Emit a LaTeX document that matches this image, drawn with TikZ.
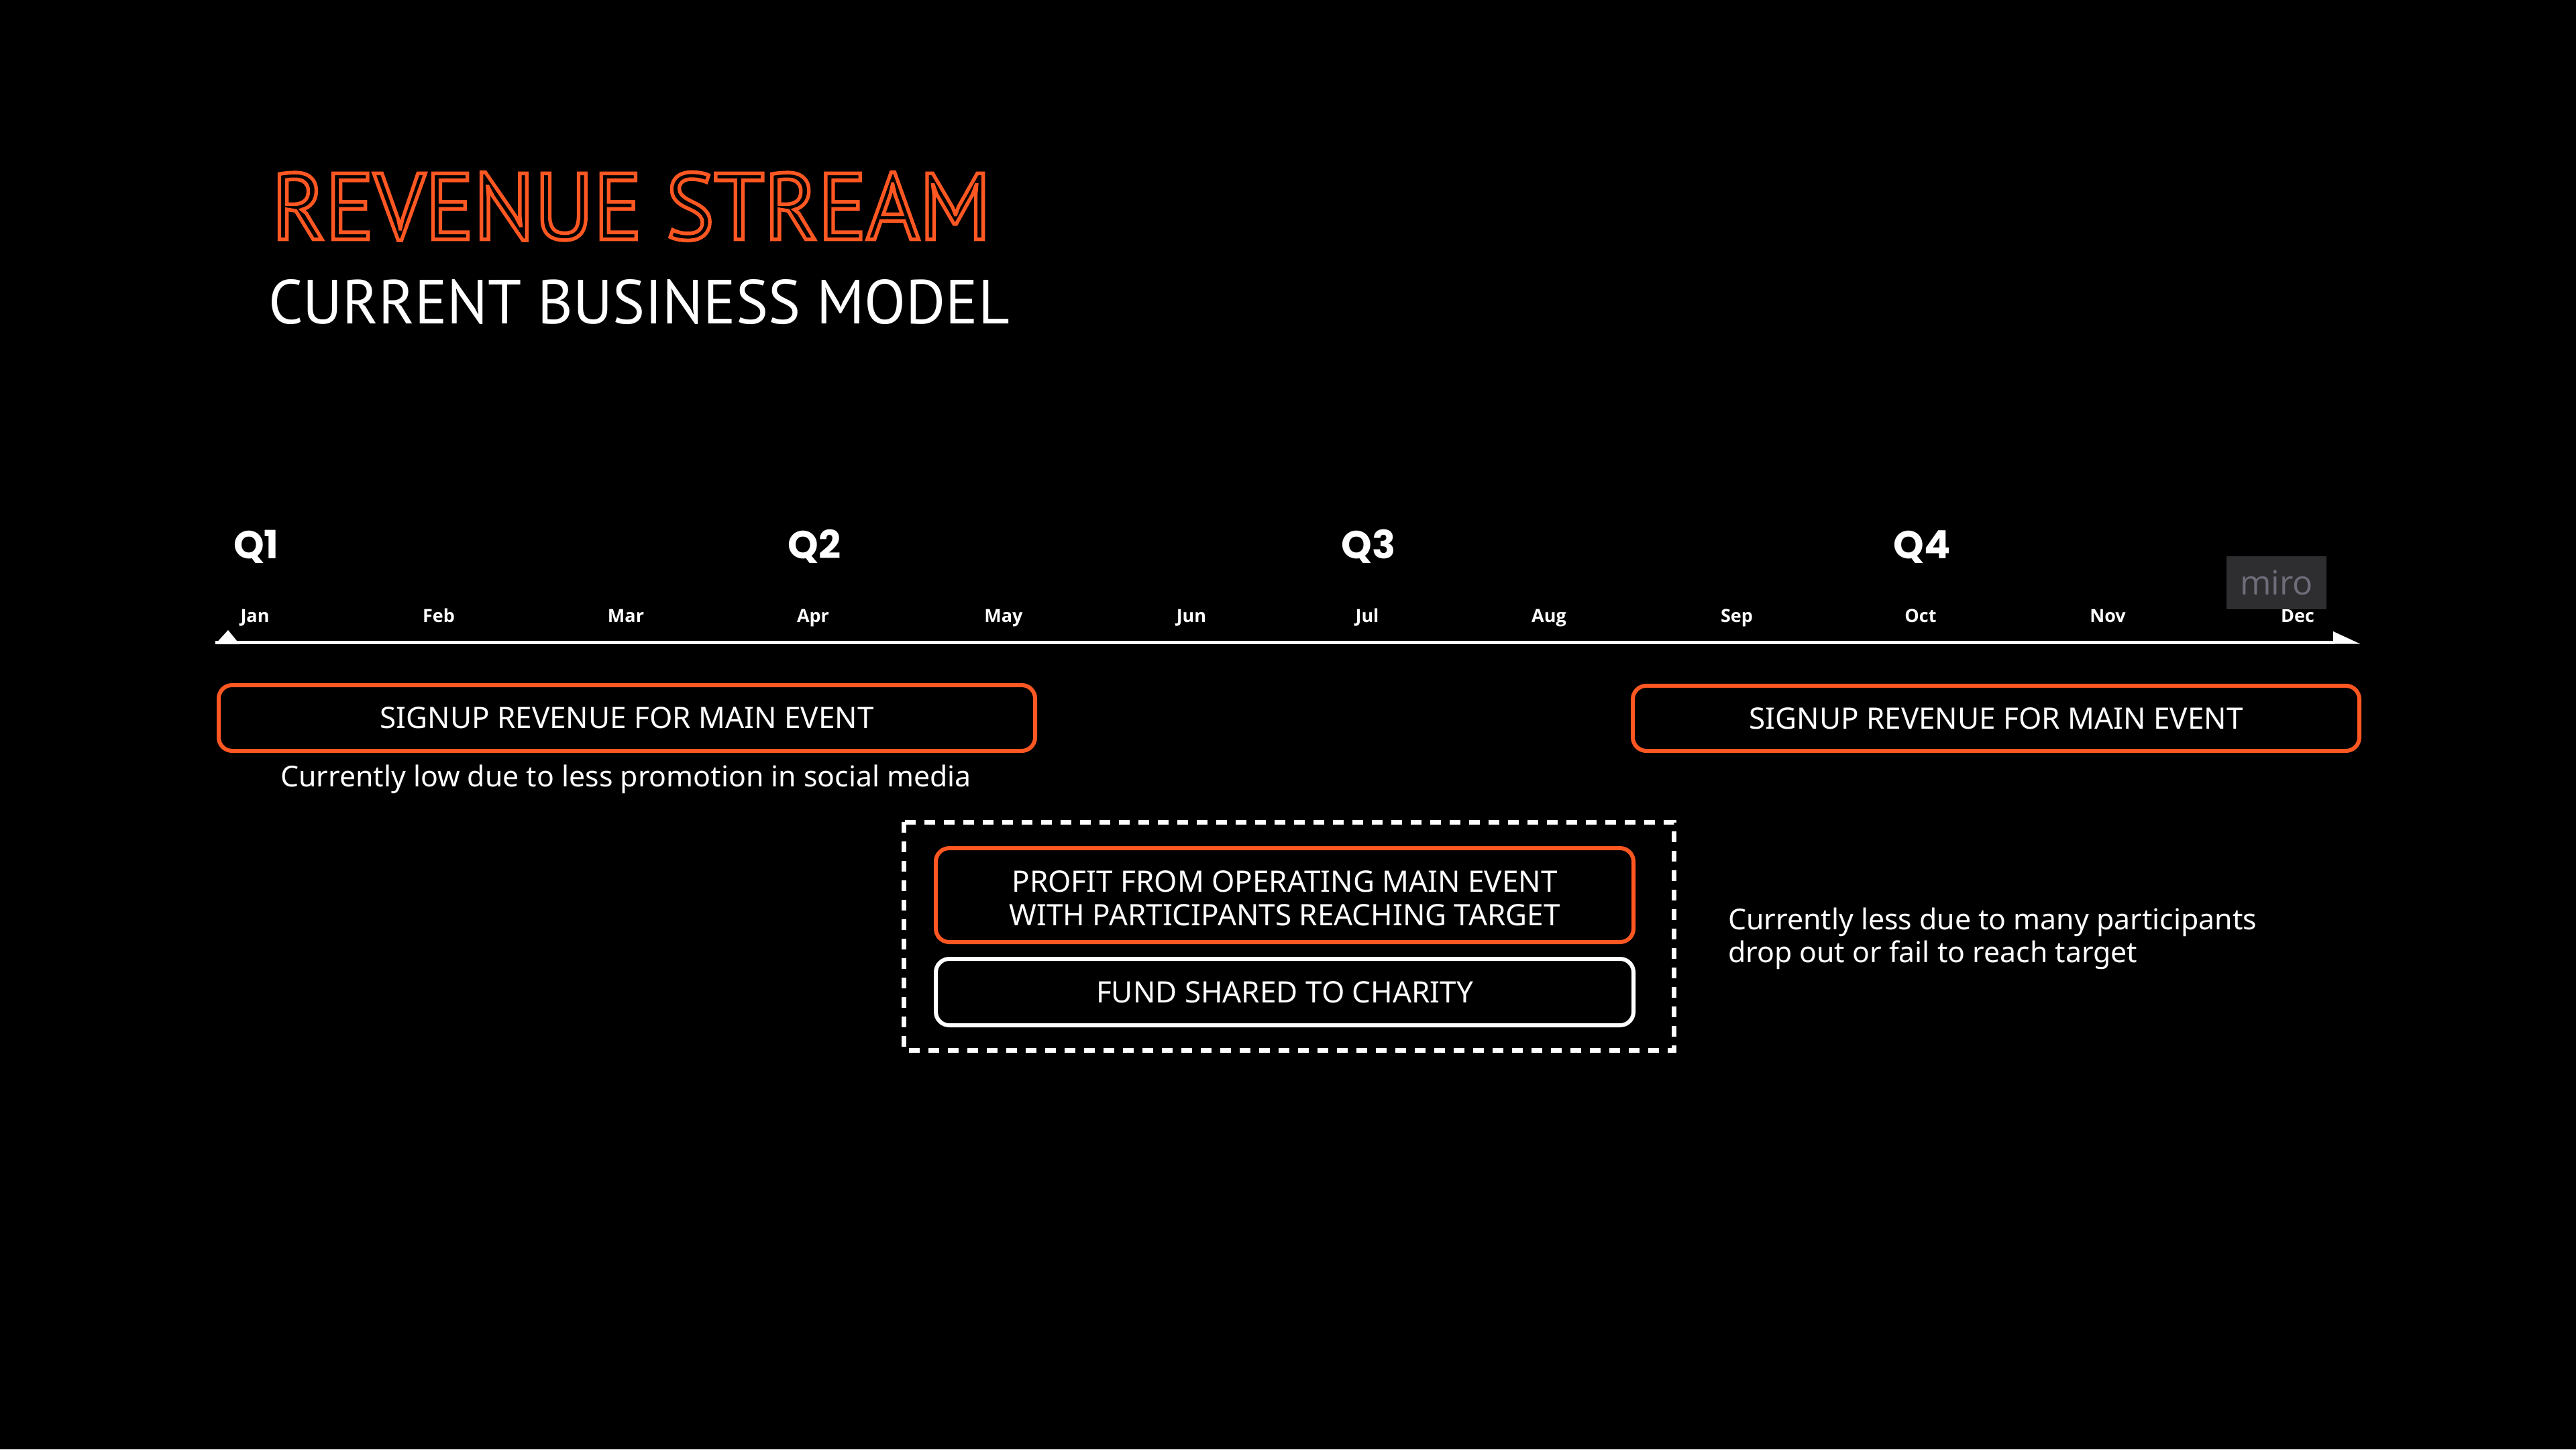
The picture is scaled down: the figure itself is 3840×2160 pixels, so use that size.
\documentclass[tikz,border=0pt]{standalone}
\usepackage{fontspec}
\setmainfont{Noto Sans}
\newfontfamily\titlefont{PT Sans}
\newfontfamily\qfont{Poppins}
\newfontfamily\monthfont{Open Sans}
\definecolor{accent}{HTML}{FF5722}
\definecolor{badgebg}{HTML}{2E2E30}
\definecolor{badgefg}{HTML}{6E6D7A}
\newcommand{\titleA}{\special{pdf:literal direct 1 Tr 5.5 w}\resizebox{1072pt}{100pt}{\titlefont\fontsize{140}{140}\selectfont REVENUE STREAM}\special{pdf:literal direct 0 Tr}}
\newcommand{\titleB}{\resizebox{1105pt}{66pt}{\titlefont\fontsize{94}{94}\selectfont CURRENT BUSINESS MODEL}}
\tikzset{
  plain/.style={inner sep=0pt, outer sep=0pt},
  qlabel/.style={plain, text=white, anchor=base, font=\qfont\bfseries\fontsize{58}{60}\selectfont},
  monthlabel/.style={plain, text=white, anchor=base, font=\monthfont\bfseries\fontsize{27}{30}\selectfont},
  boxtext/.style={font=\fontsize{44}{50}\selectfont},
  revbox/.style={draw=accent, line width=6pt, rounded corners=20pt, text=white, boxtext, align=center, inner sep=0pt},
  whitebox/.style={draw=white, line width=6pt, rounded corners=20pt, text=white, boxtext, align=center, inner sep=0pt},
  boxlabel/.style={plain, text=white, boxtext, align=center},
  notetext/.style={plain, text=white, font=\fontsize{42.8}{49}\selectfont, align=left},
}
\begin{document}
\begin{tikzpicture}[x=1pt,y=-1pt]
\fill[black] (0,0) rectangle (3840,2160);
\useasboundingbox (0,0) rectangle (3840,2160);

% title (outlined)
\node[plain, anchor=west, text=accent] (title) at (405,307.5) {\titleA};
\node[plain, anchor=west, text=white] (subtitle) at (400,450) {\titleB};

% quarters
\node[qlabel] (q1) at (382,832) {Q1};
\node[qlabel] (q2) at (1214,832) {Q2};
\node[qlabel] (q3) at (2040,832) {Q3};
\node[qlabel] (q4) at (2865,832) {Q4};

% months
\node[monthlabel] (jan) at (380,927) {Jan};
\node[monthlabel] (feb) at (654,927) {Feb};
\node[monthlabel] (mar) at (933,927) {Mar};
\node[monthlabel] (apr) at (1212,927) {Apr};
\node[monthlabel] (may) at (1496,927) {May};
\node[monthlabel] (jun) at (1776,927) {Jun};
\node[monthlabel] (jul) at (2038,927) {Jul};
\node[monthlabel] (aug) at (2309,927) {Aug};
\node[monthlabel] (sep) at (2589,927) {Sep};
\node[monthlabel] (oct) at (2863,927) {Oct};
\node[monthlabel] (nov) at (3142,927) {Nov};
\node[monthlabel] (dec) at (3425,927) {Dec};

% miro badge
\node[plain, fill=badgebg, minimum width=149pt, minimum height=79pt, text=badgefg,
      font=\monthfont\fontsize{50}{50}\selectfont] (miro) at (3393.5,868.5) {miro};

% axis
\coordinate (axL) at (321,957);
\coordinate (axR) at (3480,957);
\draw[white, line width=5pt] (axL) -- (axR);
\fill[white] (321,960) -- (340,939) -- (357,960) -- cycle;
\fill[white] (3478,941) -- (3518,959.5) -- (3478,959.5) -- cycle;

% signup boxes
\node[revbox, minimum width=1217pt, minimum height=98pt] (sigL) at (934.5,1070) {SIGNUP REVENUE FOR MAIN EVENT};
\node[revbox, minimum width=1083pt, minimum height=97pt] (sigR) at (2975.5,1070.5) {SIGNUP REVENUE FOR MAIN EVENT};
\node[notetext, anchor=base] (noteL) at (933,1172) {Currently low due to less promotion in social media};

% dashed group
\draw[white, line width=7pt, dash pattern=on 16pt off 13pt] (1347,1225) rectangle (2495,1565);
\node[revbox, minimum width=1040pt, minimum height=140pt] (profit) at (1915,1334) {};
\node[boxlabel] (profitText) at (1915,1339) {PROFIT FROM OPERATING MAIN EVENT\\WITH PARTICIPANTS REACHING TARGET};
\node[whitebox, minimum width=1040pt, minimum height=99pt] (charity) at (1915,1478.5) {FUND SHARED TO CHARITY};

% right note
\node[notetext, anchor=base west] (noteR) at (2576,1434) {Currently less due to many participants\\drop out or fail to reach target};
\end{tikzpicture}
\end{document}
